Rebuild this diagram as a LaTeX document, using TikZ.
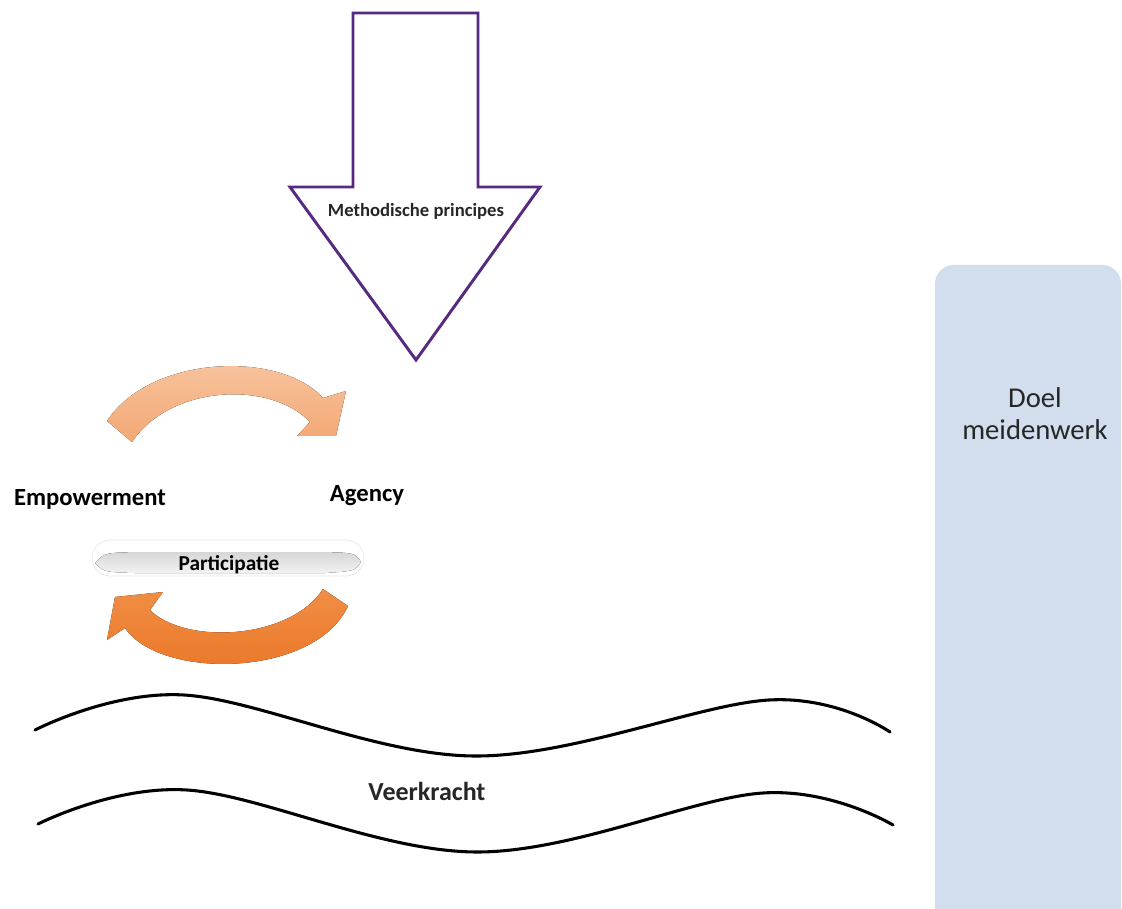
\documentclass[tikz,border=0pt]{standalone}
\usepackage{fontspec}
\setmainfont{Carlito}
\definecolor{arrowpurple}{HTML}{562A80}
\definecolor{doelblue}{HTML}{D2DDEE}
\definecolor{lightorange}{HTML}{F8C7A4}
\definecolor{midorange}{HTML}{F3A874}
\definecolor{hotorange}{HTML}{F08E44}
\definecolor{darkorange}{HTML}{EA7526}
\definecolor{textgray}{HTML}{262626}

\begin{document}
\begin{tikzpicture}[
    x=0.75pt, y=-0.75pt,
    wave/.style={line width=2.3pt, line cap=round},
    lbl/.style={font=\bfseries\fontsize{18.5}{20}\selectfont, anchor=base, inner sep=0pt},
    pill/.style={draw=gray!22, fill=white, rounded corners=13.5pt,
      minimum width=204pt, minimum height=27pt, inner sep=0pt}
]
\useasboundingbox (0,0) rectangle (1122,909);
\clip (0,0) rectangle (1122,909);

% doel
\fill[doelblue, rounded corners=14pt] (935,265) rectangle (1121,960);
\node[font=\fontsize{21.5}{24}\selectfont, text=textgray, align=center,
  inner sep=0pt] (doel) at (1035,414) {Doel\\meidenwerk};

% big arrow
\draw[arrowpurple, line width=2.2pt, line join=miter]
  (353,13) -- (478,13) -- (478,187) -- (540,187) -- (416,360)
  -- (290,187) -- (353,187) -- cycle;
\node[lbl, font=\bfseries\fontsize{14}{16}\selectfont, text=textgray]
  (principes) at (416,217) {Methodische principes};

% cycle
\fill[top color=lightorange, bottom color=midorange]
  (107,421) .. controls (150,355) and (280,350) .. (323,398)
  -- (346,391) -- (336,436) -- (297,436) -- (310,422)
  .. controls (270,380) and (170,385) .. (132,442) -- cycle;
\fill[top color=hotorange, bottom color=darkorange]
  (323,589) -- (348,606) .. controls (315,678) and (160,680) .. (125,628)
  -- (107,640) -- (115,597) -- (163,592) -- (150,610)
  .. controls (185,645) and (290,640) .. (323,589) -- cycle;

\node[lbl] (empowerment) at (90,505) {Empowerment};
\node[lbl] (agency) at (367,501) {Agency};

\node[pill] (pill) at (228,558) {};
\fill[top color=gray!32, bottom color=gray!10]
  (95,563) .. controls (104,553) .. (135,552) -- (325,552)
  .. controls (355,553) .. (361,562) .. controls (355,571) .. (325,573)
  -- (135,573) .. controls (104,572) .. (95,563) -- cycle;
\node[lbl, font=\bfseries\fontsize{16}{18}\selectfont]
  (participatie) at (229,570) {Participatie};

% veerkracht
\draw[wave] plot[smooth, tension=0.6] coordinates
  {(35,730) (184,695) (474,756) (769,700) (890,732)};
\draw[wave] plot[smooth, tension=0.6] coordinates
  {(38,824) (187,790) (476,852) (763,793) (893,825)};
\node[lbl, font=\bfseries\fontsize{19.5}{22}\selectfont, text=textgray]
  (veerkracht) at (427,800) {Veerkracht};
\end{tikzpicture}
\end{document}
